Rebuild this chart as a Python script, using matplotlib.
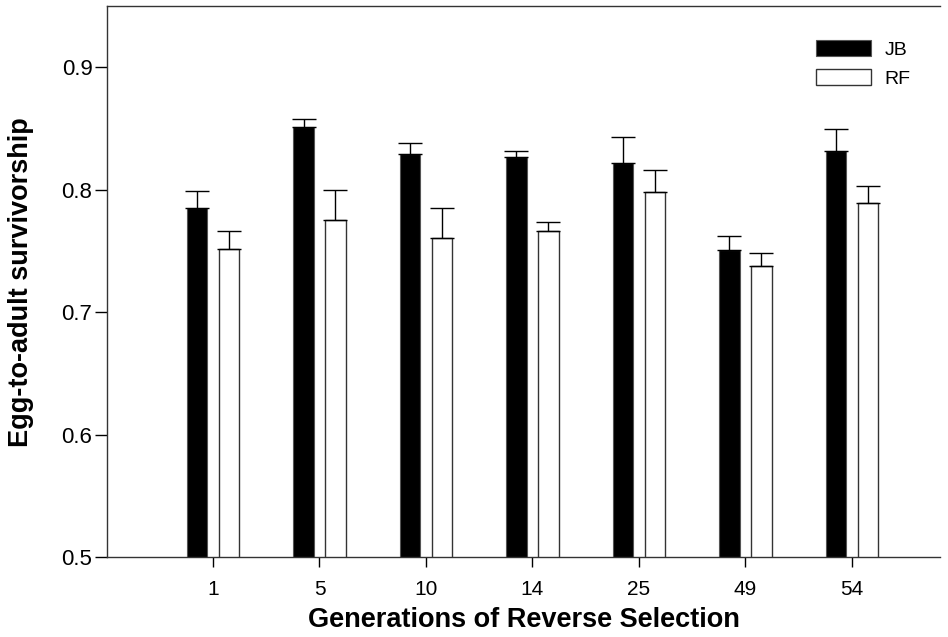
import numpy as np
import matplotlib.pyplot as plt

plt.rcParams['font.family'] = ['Liberation Sans', 'DejaVu Sans']

generations = ['1', '5', '10', '14', '25', '49', '54']
jb_mean = [0.785, 0.851, 0.829, 0.827, 0.822, 0.751, 0.832]
jb_err = [0.014, 0.007, 0.0095, 0.0046, 0.021, 0.011, 0.018]
rf_mean = [0.752, 0.775, 0.761, 0.766, 0.798, 0.738, 0.789]
rf_err = [0.014, 0.025, 0.024, 0.008, 0.018, 0.010, 0.014]

x = np.arange(len(generations))
w = 0.19
off = 0.15

fig = plt.figure(figsize=(9.48, 6.37), dpi=100)
ax = fig.add_axes([0.1129, 0.1251, 0.879, 0.8655])

zero = [0] * len(x)
ax.bar(x - off, jb_mean, w, color='black', edgecolor='#555555', linewidth=0.8,
       label='JB', zorder=2)
ax.bar(x + off, rf_mean, w, color='white', edgecolor='#333333', linewidth=1.0,
       label='RF', zorder=2)
ax.errorbar(x - off, jb_mean, yerr=[zero, jb_err], fmt='none', ecolor='black',
            elinewidth=1.0, capsize=8.5, capthick=1.0, zorder=3)
ax.errorbar(x + off, rf_mean, yerr=[zero, rf_err], fmt='none', ecolor='black',
            elinewidth=1.0, capsize=8.5, capthick=1.0, zorder=3)

ax.set_xlim(-0.995, 6.83)
ax.set_ylim(0.5, 0.95)
ax.set_xticks(x)
ax.set_xticklabels(generations)
ax.set_yticks([0.5, 0.6, 0.7, 0.8, 0.9])
ax.set_yticklabels(['0.5', '0.6', '0.7', '0.8', '0.9'])
ax.tick_params(axis='both', colors='black', width=1.0)
ax.tick_params(axis='y', length=8.5, pad=2, labelsize=16)
ax.tick_params(axis='x', length=7, pad=9, labelsize=15)

for s in ['left', 'bottom', 'top']:
    ax.spines[s].set_linewidth(1.0)
    ax.spines[s].set_color('#333333')
ax.spines['right'].set_visible(False)

ax.set_xlabel('Generations of Reverse Selection', fontsize=19.5, fontweight='bold',
              labelpad=6)
ax.set_ylabel('Egg-to-adult survivorship', fontsize=19.5, fontweight='bold',
              labelpad=20)

ax.legend(loc='upper right', bbox_to_anchor=(0.985, 0.97), frameon=False,
          fontsize=14, handlelength=2.8, handleheight=0.85, handletextpad=0.7,
          labelspacing=0.55)

fig.savefig('out.png', dpi=100)
